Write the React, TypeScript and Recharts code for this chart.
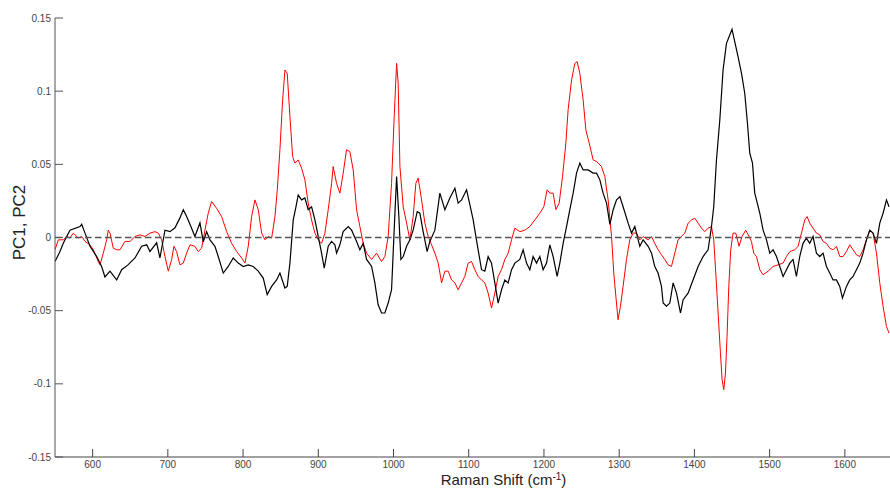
import { Label, Line, LineChart, ReferenceLine, XAxis, YAxis } from "recharts";

// [Raman shift (cm-1), loading]
const pc1Points: [number, number][] = [
  [550.0, -0.0164], [556.6, -0.0096], [561.0, -0.004], [569.9, 0.005], [583.2, 0.0075], [585.5, 0.009],
  [589.9, 0.003], [596.5, -0.006], [605.4, -0.013], [612.1, -0.02], [616.4, -0.027], [623.1, -0.023],
  [632.0, -0.029], [638.6, -0.022], [647.0, -0.0187], [656.3, -0.014], [665.2, -0.006], [671.9, -0.005],
  [676.2, -0.0096], [685.1, -0.0036], [689.5, -0.014], [696.2, 0.005], [702.8, 0.004], [709.5, 0.0066],
  [716.1, 0.0134], [720.5, 0.019], [725.0, 0.0143], [729.4, 0.009], [736.0, 0.0007], [742.7, 0.01],
  [747.1, -0.003], [751.6, 0.004], [756.0, -0.0016], [762.6, -0.006], [767.0, -0.013], [773.7, -0.0243],
  [780.3, -0.0198], [786.9, -0.014], [793.6, -0.0175], [800.2, -0.0198], [806.9, -0.0187], [813.5, -0.0198],
  [820.2, -0.023], [826.8, -0.0277], [832.1, -0.039], [838.0, -0.0334], [844.6, -0.029], [849.0, -0.0243],
  [855.6, -0.0345], [858.7, -0.0334], [862.3, -0.0175], [866.7, 0.012], [870.3, 0.021], [873.3, 0.029],
  [877.8, 0.0257], [882.2, 0.027], [886.6, 0.019], [891.1, 0.021], [895.5, 0.012], [899.9, 0.0007],
  [904.4, -0.0107], [907.9, -0.021], [913.2, -0.006], [917.7, -0.0027], [922.1, -0.005], [924.3, -0.0107],
  [928.7, -0.005], [933.1, 0.004], [939.8, 0.0075], [944.3, 0.005], [950.9, -0.0027], [955.3, -0.0084],
  [959.7, -0.004], [964.2, -0.015], [970.9, -0.0198], [975.2, -0.031], [979.6, -0.046], [984.1, -0.0516],
  [988.5, -0.0516], [992.9, -0.0448], [997.4, -0.0357], [1000.5, 0.0007], [1004.1, 0.0416], [1007.1, 0.0143],
  [1009.8, -0.015], [1012.9, -0.013], [1017.4, -0.006], [1021.8, -0.0016], [1026.1, 0.005], [1031.5, 0.0177],
  [1035.0, 0.0166], [1039.4, 0.004], [1044.7, -0.0096], [1048.3, -0.0027], [1055.0, 0.005], [1061.6, 0.0303],
  [1068.3, 0.019], [1074.9, 0.027], [1081.6, 0.0337], [1085.9, 0.0235], [1090.5, 0.0257], [1097.1, 0.0326],
  [1101.5, 0.0225], [1105.9, 0.012], [1108.1, 0.005], [1112.5, -0.0084], [1117.0, -0.022], [1121.4, -0.023],
  [1125.8, -0.013], [1130.3, -0.0175], [1134.7, -0.031], [1139.1, -0.0448], [1143.6, -0.0357], [1148.0, -0.029],
  [1152.4, -0.031], [1156.9, -0.022], [1161.3, -0.0175], [1167.9, -0.015], [1172.3, -0.0084], [1176.8, -0.0175],
  [1181.2, -0.022], [1185.6, -0.013], [1190.1, -0.0175], [1194.5, -0.013], [1198.9, -0.022], [1203.4, -0.0175],
  [1207.8, -0.005], [1212.2, -0.013], [1217.5, -0.0266], [1221.1, -0.0175], [1225.5, -0.004], [1230.0, 0.0075],
  [1234.4, 0.019], [1238.8, 0.0303], [1243.3, 0.044], [1247.7, 0.0508], [1252.1, 0.0462], [1258.7, 0.0462],
  [1265.4, 0.044], [1269.9, 0.044], [1274.3, 0.0394], [1278.6, 0.0303], [1283.2, 0.0235], [1287.6, 0.009],
  [1292.0, 0.019], [1296.5, 0.0257], [1300.9, 0.028], [1305.2, 0.021], [1311.9, 0.0098], [1316.4, 0.003],
  [1320.8, 0.0075], [1327.4, -0.006], [1331.8, -0.0016], [1338.5, -0.006], [1343.0, -0.0107], [1347.3, -0.0198],
  [1351.7, -0.0243], [1356.2, -0.0334], [1358.4, -0.0448], [1362.9, -0.047], [1367.3, -0.0448], [1371.7, -0.031],
  [1376.2, -0.038], [1381.5, -0.0516], [1385.0, -0.0425], [1391.6, -0.038], [1398.2, -0.029], [1404.9, -0.0198],
  [1411.5, -0.013], [1418.2, -0.0084], [1422.7, 0.0075], [1425.7, 0.021], [1429.3, 0.053], [1433.7, 0.08],
  [1438.1, 0.1145], [1442.6, 0.1327], [1447.0, 0.1384], [1450.0, 0.1423], [1453.6, 0.1338], [1458.0, 0.1236],
  [1462.6, 0.1122], [1466.9, 0.0986], [1470.5, 0.0781], [1473.6, 0.0576], [1477.2, 0.0508], [1480.2, 0.0303],
  [1482.5, 0.0257], [1486.9, 0.0166], [1491.3, 0.005], [1495.8, -0.0016], [1500.2, -0.0107], [1504.6, -0.0084],
  [1509.1, -0.013], [1513.5, -0.0198], [1517.9, -0.0266], [1522.4, -0.022], [1526.8, -0.0175], [1531.1, -0.015],
  [1535.6, -0.0266], [1540.0, -0.013], [1544.4, -0.004], [1548.9, -0.0004], [1553.3, -0.004], [1557.7, 0.0007],
  [1562.2, -0.0107], [1566.6, -0.013], [1571.0, -0.0107], [1575.5, -0.0198], [1579.9, -0.0243], [1584.3, -0.029],
  [1588.8, -0.029], [1593.2, -0.0334], [1596.8, -0.0414], [1602.1, -0.0334], [1606.5, -0.029], [1610.9, -0.0266],
  [1615.4, -0.022], [1619.8, -0.0175], [1624.2, -0.0107], [1628.7, -0.0016], [1633.1, 0.005], [1637.5, 0.003],
  [1642.0, -0.004], [1646.4, 0.0098], [1650.8, 0.0166], [1655.3, 0.0257], [1658.7, 0.021],
];

const pc2Points: [number, number][] = [
  [550.0, -0.0084], [554.4, -0.0016], [561.0, -0.0016], [565.5, 0.0007], [569.9, -0.0004], [574.3, 0.003],
  [581.0, -0.0004], [585.5, 0.0007], [589.9, -0.0027], [596.5, -0.005], [600.9, -0.0084], [607.5, -0.0164],
  [609.8, -0.0187], [614.2, -0.0107], [618.7, -0.0016], [620.8, 0.005], [623.1, 0.003], [627.5, -0.0073],
  [632.0, -0.0084], [636.4, -0.0084], [643.0, -0.0027], [649.7, -0.0027], [656.3, 0.0007], [663.0, 0.0018],
  [669.6, 0.0007], [676.2, 0.003], [682.9, 0.004], [687.3, 0.003], [691.8, -0.0016], [696.2, -0.013],
  [700.6, -0.023], [705.1, -0.015], [708.1, -0.006], [711.7, -0.0096], [716.1, -0.0187], [720.5, -0.0175],
  [725.0, -0.0107], [729.4, -0.005], [736.0, -0.006], [740.4, -0.0096], [744.9, -0.0073], [749.3, 0.005],
  [753.7, 0.0166], [758.2, 0.0246], [764.8, 0.02], [771.5, 0.0143], [778.2, 0.004], [784.8, -0.004],
  [791.5, -0.0096], [798.1, -0.014], [802.5, -0.0175], [806.9, -0.006], [811.4, 0.0143], [815.8, 0.0257],
  [820.2, 0.019], [824.7, 0.003], [829.1, -0.0016], [833.5, 0.0007], [838.0, -0.0004], [842.4, 0.0143],
  [845.5, 0.0326], [849.0, 0.06], [852.6, 0.094], [855.7, 0.1145], [858.7, 0.1122], [862.3, 0.0826],
  [865.9, 0.0553], [868.9, 0.0508], [873.3, 0.053], [877.8, 0.0474], [882.2, 0.0394], [886.6, 0.0235],
  [891.1, 0.012], [895.5, 0.003], [899.9, -0.0016], [904.4, -0.004], [908.8, 0.003], [913.2, 0.019],
  [917.7, 0.037], [919.8, 0.0485], [924.3, 0.037], [928.7, 0.0303], [933.1, 0.044], [937.6, 0.06],
  [942.0, 0.0587], [946.4, 0.0462], [950.9, 0.019], [955.3, 0.0075], [959.7, -0.004], [964.2, -0.0107],
  [970.9, -0.015], [977.5, -0.0107], [984.1, -0.0164], [988.5, -0.013], [992.9, 0.0007], [997.4, 0.037],
  [1000.9, 0.0826], [1004.1, 0.119], [1006.2, 0.1054], [1008.5, 0.0485], [1012.9, 0.021], [1017.4, 0.0098],
  [1021.8, -0.0016], [1026.1, 0.0143], [1029.7, 0.037], [1032.8, 0.0406], [1037.3, 0.0257], [1041.7, 0.0098],
  [1046.1, 0.0007], [1050.6, -0.005], [1055.0, -0.0107], [1059.4, -0.0175], [1063.9, -0.031], [1068.3, -0.023],
  [1072.7, -0.023], [1077.2, -0.029], [1081.6, -0.031], [1085.9, -0.0357], [1090.5, -0.031], [1094.8, -0.0266],
  [1099.2, -0.0175], [1103.7, -0.0164], [1108.1, -0.022], [1112.5, -0.0266], [1117.0, -0.029], [1121.4, -0.031],
  [1125.8, -0.038], [1130.3, -0.0482], [1134.7, -0.038], [1139.1, -0.0266], [1143.6, -0.022], [1148.0, -0.015],
  [1152.4, -0.0107], [1156.9, -0.0016], [1161.3, 0.0064], [1167.9, 0.004], [1174.6, 0.005], [1181.2, 0.0075],
  [1187.9, 0.012], [1194.5, 0.0166], [1199.8, 0.021], [1204.2, 0.0326], [1207.8, 0.0303], [1212.2, 0.0303],
  [1215.8, 0.019], [1220.2, 0.0235], [1224.7, 0.0416], [1229.1, 0.0645], [1232.1, 0.0872], [1236.7, 0.1077],
  [1241.0, 0.119], [1244.1, 0.1202], [1247.7, 0.1122], [1252.1, 0.094], [1255.7, 0.0735], [1260.1, 0.0645],
  [1265.4, 0.053], [1269.9, 0.0519], [1276.5, 0.0485], [1280.9, 0.0416], [1285.3, 0.0257], [1289.8, 0.0007],
  [1292.8, -0.0243], [1296.4, -0.0448], [1298.5, -0.0562], [1301.7, -0.047], [1305.2, -0.0334], [1309.7, -0.015],
  [1314.1, -0.0016], [1318.5, 0.003], [1323.0, 0.003], [1327.4, -0.0016], [1331.8, 0.0007], [1338.5, -0.0016],
  [1343.0, 0.0007], [1347.3, -0.004], [1351.7, -0.0084], [1356.2, -0.0118], [1360.6, -0.015], [1365.0, -0.0187],
  [1369.5, -0.0198], [1373.9, -0.0107], [1378.3, -0.0016], [1382.8, 0.0007], [1387.2, 0.003], [1391.6, 0.0098],
  [1396.1, 0.012], [1400.5, 0.0132], [1404.9, 0.0098], [1409.4, 0.0064], [1413.8, 0.004], [1418.2, 0.0064],
  [1422.7, 0.0075], [1425.7, -0.0016], [1428.4, -0.0243], [1431.5, -0.0516], [1434.6, -0.079], [1436.8, -0.097],
  [1439.0, -0.104], [1441.3, -0.0926], [1443.4, -0.0676], [1445.7, -0.0334], [1448.3, -0.0084], [1451.4, 0.003],
  [1455.0, 0.003], [1459.3, -0.006], [1463.3, 0.0007], [1468.2, 0.005], [1472.7, 0.0007], [1475.8, -0.0027],
  [1478.9, -0.0107], [1482.5, -0.013], [1486.9, -0.022], [1491.3, -0.0255], [1498.0, -0.023], [1504.6, -0.0198],
  [1511.3, -0.0187], [1517.9, -0.0175], [1522.4, -0.013], [1526.8, -0.0096], [1533.4, -0.0084], [1537.8, -0.006],
  [1542.3, 0.003], [1546.7, 0.012], [1549.8, 0.0143], [1553.3, 0.0098], [1557.7, 0.0064], [1562.2, 0.003],
  [1566.6, 0.0018], [1571.0, -0.0027], [1575.5, -0.004], [1579.9, -0.0073], [1584.3, -0.0084], [1588.8, -0.006],
  [1593.2, -0.013], [1597.6, -0.013], [1602.1, -0.0096], [1606.5, -0.005], [1610.9, -0.0084], [1615.4, -0.0118],
  [1619.8, -0.013], [1624.2, -0.0084], [1628.7, -0.0016], [1633.1, 0.005], [1637.5, 0.003], [1642.0, -0.0107],
  [1646.4, -0.031], [1650.8, -0.047], [1655.3, -0.0608], [1658.7, -0.0653],
];

const xTicks = [600, 700, 800, 900, 1000, 1100, 1200, 1300, 1400, 1500, 1600];
const yTicks = [-0.15, -0.1, -0.05, 0, 0.05, 0.1, 0.15];

const font = "'Liberation Sans', Arial, Helvetica, sans-serif";

export default function App() {
  const pc1Data = pc1Points.map(([shift, value]) => ({ shift, value }));
  const pc2Data = pc2Points.map(([shift, value]) => ({ shift, value }));

  return (
    <div style={{ position: "absolute", left: 0, top: 0, width: 890, height: 488, background: "#fff" }}>
      <LineChart width={890} height={488} margin={{ top: 18, right: 0, bottom: 0, left: 0 }}>
        <XAxis
          type="number"
          dataKey="shift"
          domain={[550, 1660]}
          ticks={xTicks}
          interval={0}
          allowDataOverflow
          height={31}
          tickSize={-8}
          tickMargin={12}
          stroke="#444"
          tick={{ fill: "#444", fontSize: 10, fontFamily: font }}
        >
          <Label
            content={({ viewBox }: any) => (
              <text
                x={viewBox.x + viewBox.width / 2 + 31}
                y={viewBox.y + 27.5}
                textAnchor="middle"
                fontSize={15}
                fontFamily={font}
                fill="#222"
              >
                Raman Shift (cm
                <tspan dy={-4.5} fontSize={10}>-1</tspan>
                <tspan dy={4.5}>)</tspan>
              </text>
            )}
          />
        </XAxis>
        <YAxis
          type="number"
          domain={[-0.15, 0.15]}
          ticks={yTicks}
          interval={0}
          allowDataOverflow
          width={55}
          tickSize={-8}
          tickMargin={12}
          tickFormatter={(v: number) => String(v)}
          stroke="#555"
          tick={{ fill: "#444", fontSize: 10, fontFamily: font }}
        >
          <Label
            content={({ viewBox }: any) => {
              const cy = viewBox.y + viewBox.height / 2 - 15;
              return (
                <text
                  x={25}
                  y={cy}
                  transform={`rotate(-90, 25, ${cy})`}
                  textAnchor="middle"
                  fontSize={17}
                  fontFamily={font}
                  fill="#222"
                >
                  PC1, PC2
                </text>
              );
            }}
          />
        </YAxis>
        <Line
          data={pc2Data}
          dataKey="value"
          type="linear"
          stroke="#ff0000"
          strokeWidth={1}
          dot={false}
          isAnimationActive={false}
        />
        <Line
          data={pc1Data}
          dataKey="value"
          type="linear"
          stroke="#000000"
          strokeWidth={1.2}
          dot={false}
          isAnimationActive={false}
        />
        <ReferenceLine y={0} stroke="#555" strokeWidth={1.5} strokeDasharray="6.5 3.5" />
      </LineChart>
    </div>
  );
}
